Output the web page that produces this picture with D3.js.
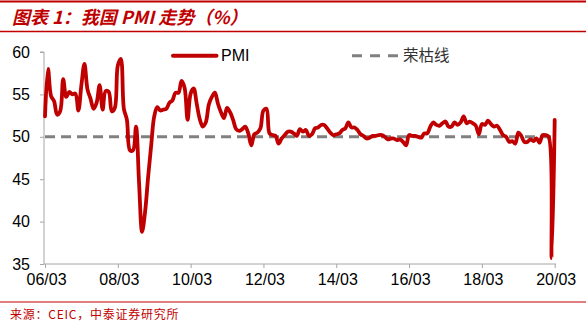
<!DOCTYPE html>
<html>
<head>
<meta charset="utf-8">
<script src="https://cdn.jsdelivr.net/npm/d3@7/dist/d3.min.js"></script>
<style>
  html, body { margin: 0; padding: 0; background: #fff; }
  svg { display: block; }
</style>
</head>
<body>
<script>
// ---- data (monthly China manufacturing PMI, 2006/03 - 2020/03) ----
const startLabel = "2006-03";
const pmi = [
  52.4, 58.0, 54.8, 54.2, 52.6, 53.0, 56.8, 54.7, 55.3, 55.0,
  55.1, 53.1, 56.1, 58.6, 55.6, 54.5, 53.3, 54.0, 56.1, 53.2, 55.4, 55.3,
  53.0, 53.4, 58.4, 59.2, 53.3, 52.0, 48.4, 48.4, 51.2, 44.6, 38.8, 41.2,
  45.3, 49.0, 52.4, 53.5, 53.1, 53.2, 53.3, 54.0, 54.3, 55.2, 55.2, 56.6,
  55.8, 52.0, 55.1, 55.7, 53.9, 52.1, 51.2, 51.7, 53.8, 54.7, 55.2, 53.9,
  52.9, 52.2, 53.4, 52.9, 52.0, 50.9, 50.7, 50.9, 51.2, 50.4, 49.0, 50.3,
  50.5, 51.0, 53.1, 53.3, 50.4, 50.2, 50.1, 49.2, 49.8, 50.2, 50.6, 50.6,
  50.4, 50.1, 50.9, 50.6, 50.8, 50.1, 50.3, 51.0, 51.1, 51.4, 51.4, 51.0,
  50.5, 50.2, 50.3, 50.4, 50.8, 51.0, 51.7, 51.1, 51.1, 50.8, 50.3, 50.1,
  49.8, 49.9, 50.1, 50.1, 50.2, 50.2, 50.0, 49.7, 49.8, 49.8, 49.6, 49.7,
  49.4, 49.0, 50.2, 50.1, 50.1, 50.0, 49.9, 50.4, 50.4, 51.2, 51.7, 51.4,
  51.3, 51.6, 51.8, 51.2, 51.2, 51.7, 51.4, 51.7, 52.4, 51.6, 51.8, 51.6,
  51.3, 50.3, 51.5, 51.4, 51.9, 51.5, 51.2, 51.3, 50.8, 50.2, 50.0, 49.4,
  49.5, 49.2, 50.5, 50.1, 49.4, 49.4, 49.7, 49.5, 49.8, 49.3, 50.2, 50.2,
  50.0, 35.7, 52.0
];
const boomBust = 50;
const xTickLabels = ["06/03","08/03","10/03","12/03","14/03","16/03","18/03","20/03"];
const xTickStep = 24; // months between labels
const yTicks = [35, 40, 45, 50, 55, 60];
const titleText = "图表 1：我国 PMI 走势（%）";
const sourceText = "来源：CEIC，中泰证券研究所";
const seriesNames = ["PMI", "荣枯线"];

// ---- layout ----
const W = 586, H = 325;
const red = "#C00000", gray = "#808080", axisGray = "#A6A6A6";
const svg = d3.select("body").append("svg").attr("width", W).attr("height", H);

const x = d3.scaleLinear().domain([0, pmi.length - 1]).range([45, 554.7]);
const y = d3.scaleLinear().domain([35, 60]).range([264, 52]);

// header lines & title
svg.append("line").attr("x1", 0).attr("x2", W).attr("y1", 1.5).attr("y2", 1.5)
  .attr("stroke", red).attr("stroke-width", 2);
svg.append("line").attr("x1", 0).attr("x2", W).attr("y1", 31.5).attr("y2", 31.5)
  .attr("stroke", red).attr("stroke-width", 1.3);
svg.append("text").attr("x", 12).attr("y", 24)
  .attr("fill", red)
  .style("font-family", "'Noto Sans CJK SC', sans-serif")
  .style("font-weight", "bold").style("font-style", "italic")
  .style("font-size", "18px")
  .style("white-space", "pre")
  .text(titleText);

// footer
svg.append("line").attr("x1", 0).attr("x2", W).attr("y1", 302).attr("y2", 302)
  .attr("stroke", red).attr("stroke-width", 1.2);
svg.append("text").attr("x", 10).attr("y", 319)
  .attr("fill", red)
  .style("font-family", "'Noto Sans CJK SC', monospace")
  .style("font-size", "12px")
  .style("letter-spacing", "0.75px")
  .text(sourceText);

const fontAxis = "'Liberation Sans', Arial, sans-serif";

// y axis
const yAxis = d3.axisLeft(y).tickValues(yTicks).tickSize(4).tickPadding(10).tickFormat(d3.format("d"));
const gy = svg.append("g").attr("transform", "translate(44,0)").call(yAxis);
gy.select(".domain").attr("stroke", axisGray).attr("d", `M-4,${y(60)}H0V${y(35)}`);
gy.selectAll(".tick line").attr("stroke", axisGray);
gy.selectAll(".tick text").style("font-family", fontAxis).style("font-size", "16px").attr("fill", "#000");

// x axis
const xTickVals = xTickLabels.map((d, i) => i * xTickStep);
const xAxis = d3.axisBottom(x).tickValues(xTickVals).tickSize(4).tickPadding(6)
  .tickFormat((d, i) => xTickLabels[i]);
const gx = svg.append("g").attr("transform", `translate(0,${y(35)})`).call(xAxis);
gx.select(".domain").attr("stroke", axisGray).attr("d", `M44,0H556`);
gx.selectAll(".tick line").attr("stroke", axisGray);
gx.selectAll(".tick text").style("font-family", fontAxis).style("font-size", "16px").attr("fill", "#000").attr("dx", 1);

// 50 reference line
svg.append("line")
  .attr("x1", x(0)).attr("x2", x(pmi.length - 1))
  .attr("y1", y(boomBust)).attr("y2", y(boomBust))
  .attr("stroke", gray).attr("stroke-width", 3).attr("stroke-dasharray", "10,6");

// PMI line
const line = d3.line().x((d, i) => x(i)).y(d => y(d)).curve(d3.curveCatmullRom);
svg.append("path").datum(pmi).attr("d", line)
  .attr("fill", "none").attr("stroke", red).attr("stroke-width", 3.8)
  .attr("stroke-linejoin", "round").attr("stroke-linecap", "round");

// legend
svg.append("line").attr("x1", 173).attr("x2", 216.5).attr("y1", 55.7).attr("y2", 55.7)
  .attr("stroke", red).attr("stroke-width", 4).attr("stroke-linecap", "round");
svg.append("text").attr("x", 221).attr("y", 61)
  .style("font-family", fontAxis).style("font-size", "16px").attr("fill", "#000")
  .text(seriesNames[0]);
svg.append("line").attr("x1", 352).attr("x2", 399).attr("y1", 55.7).attr("y2", 55.7)
  .attr("stroke", gray).attr("stroke-width", 3).attr("stroke-dasharray", "10,8");
svg.append("text").attr("x", 403).attr("y", 61)
  .style("font-family", "'Noto Sans CJK SC', sans-serif").style("font-size", "15.5px").attr("fill", "#333")
  .text(seriesNames[1]);
</script>
</body>
</html>
